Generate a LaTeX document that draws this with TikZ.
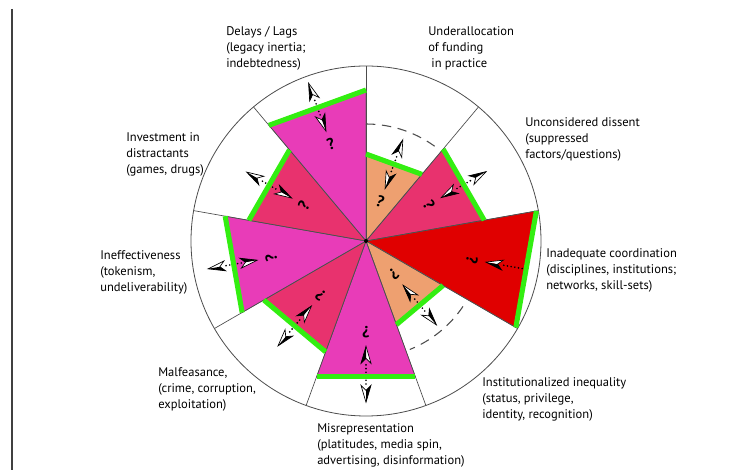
\documentclass[tikz,border=0pt]{standalone}
\usepackage{fontspec}
\setmainfont{PT Sans}
\definecolor{peach}{HTML}{EEA070}
\definecolor{rosered}{HTML}{E8326E}
\definecolor{orchid}{HTML}{E83CB8}
\definecolor{blood}{HTML}{E00000}
\definecolor{lime}{HTML}{33EE11}
\tikzset{
  dart/.pic={
    \fill[white] (0,0) -- (-17,-5) -- (-12,0) -- cycle;
    \fill[black] (0,0) -- (-17,5) -- (-12,0) -- cycle;
    \draw[line width=0.5pt] (0,0) -- (-17,5) -- (-12,0) -- (-17,-5) -- cycle;
  }
}
\begin{document}
\begin{tikzpicture}[x=0.75pt,y=0.75pt,
    lbl/.style={anchor=west,align=left,inner sep=0pt,font=\fontsize{9.4}{12}\selectfont},
    qmark/.style={inner sep=0pt,font=\bfseries\fontsize{12}{12}\selectfont},
    tail/.style={line width=1.4pt,dash pattern=on 0pt off 2.8pt,line cap=round},
    greenbar/.style={lime,line width=3.8pt},
    rim/.style={black!70,line width=0.6pt}]
  \useasboundingbox (-366,-229) rectangle (390,241);
  \draw[black!75,line width=1.2pt] (-354,232) -- (-354,-229);
  % wedges
  \foreach \k/\r/\c [evaluate=\k as \a using 90-40*\k, evaluate=\k as \b using 50-40*\k]
      in {0/87/peach, 1/120/rosered, 2/173/blood, 3/89/peach, 4/144/orchid,
          5/118/rosered, 6/143/orchid, 7/119/rosered, 8/151/orchid} {
    \filldraw[fill=\c,draw=black!60,line width=0.4pt] (0,0) -- (\a:\r) -- (\b:\r) -- cycle;
  }
  \draw[rim] (0,0) circle (175);
  \foreach \a in {90,50,...,-230}
    \draw[rim,line width=0.5pt] (0,0) -- (\a:175);
  \fill (0,0) circle (2);
  \draw[black!70,line width=0.8pt,dash pattern=on 7pt off 5pt] (90:117) arc[start angle=90,end angle=52,radius=117];
  \draw[black!70,line width=0.8pt,dash pattern=on 7pt off 5pt] (-34:117) arc[start angle=-34,end angle=-68,radius=117];
  % bars, arrows, question marks
  \foreach \k/\r/\both/\t [evaluate=\k as \a using 90-40*\k, evaluate=\k as \b using 50-40*\k,
      evaluate=\k as \m using 70-40*\k, evaluate=\r as \d using \r*cos(20)]
      in {0/87/1/26, 1/120/1/26, 2/173/0/41, 3/89/1/26, 4/144/1/30,
          5/118/1/26, 6/143/1/24, 7/119/1/26, 8/151/1/25} {
    \draw[greenbar] (\a:\r) -- (\b:\r);
    \ifnum\both=1
      \draw[tail] ({\m}:{\d+4}) -- ({\m}:{\d+11});
      \pic[rotate=\m] at ({\m}:{\d+26}) {dart};
    \fi
    \draw[tail] ({\m}:{\d-4}) -- ({\m}:{\d-\t+15});
    \pic[rotate=\m+180] at ({\m}:{\d-\t}) {dart};
    \node[qmark,rotate=\m-90] (q\k) at ({\m}:{\d-\t-14}) {?};
  }
  % labels
  \node[lbl] (delays) at (-140,193) {Delays / Lags\\(legacy inertia;\\indebtedness)};
  \node[lbl] (funding) at (62,193) {Underallocation\\of funding\\\hspace{0.25em}in practice};
  \node[lbl] (dissent) at (159,102) {Unconsidered dissent\\(suppressed\\factors/questions)};
  \node[lbl] (coord) at (180,-29) {Inadequate coordination\\(disciplines, institutions;\\networks, skill-sets)};
  \node[lbl] (inequal) at (116,-158) {Institutionalized inequality\\(status, privilege,\\identity, recognition)};
  \node[lbl] (misrep) at (-49,-204) {Misrepresentation\\(platitudes, media spin,\\advertising, disinformation)};
  \node[lbl] (malfeas) at (-208,-148) {Malfeasance,\\(crime, corruption,\\exploitation)};
  \node[lbl] (ineffect) at (-266,-31) {Ineffectiveness\\(tokenism,\\undeliverability)};
  \node[lbl] (invest) at (-240,87) {Investment in\\distractants\\(games, drugs)};
\end{tikzpicture}
\end{document}
